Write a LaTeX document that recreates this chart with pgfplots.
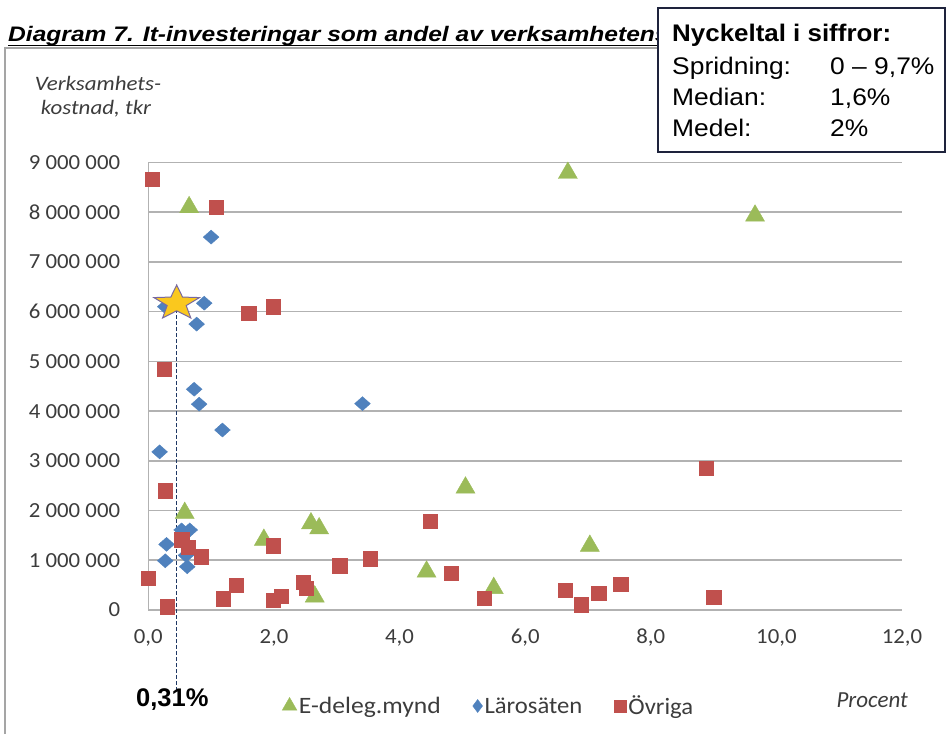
\documentclass[border=0pt]{standalone}
\usepackage{fontspec}
\setmainfont{Carlito}
\newfontfamily\arial{Liberation Sans}
\usepackage{graphicx}
\usepackage{pgfplots}
\pgfplotsset{compat=1.18}
\usepackage{pgfplotstable}
\definecolor{cgreen}{RGB}{155,187,89}
\definecolor{cblue}{RGB}{79,129,189}
\definecolor{cred}{RGB}{192,80,77}
\definecolor{cgrid}{RGB}{178,178,178}
\definecolor{ctick}{RGB}{60,60,60}
\definecolor{cframe}{RGB}{165,165,165}
\definecolor{cdash}{RGB}{31,56,100}
\definecolor{cbox}{RGB}{30,35,60}
\definecolor{cstar}{RGB}{250,200,30}
\definecolor{cstarline}{RGB}{120,105,160}

\pgfdeclareplotmark{bigstar}{%
  \pgfpathmoveto{\pgfqpoint{0pt}{18.24pt}}%
  \pgfpathlineto{\pgfqpoint{-5.88pt}{6.15pt}}%
  \pgfpathlineto{\pgfqpoint{-22.83pt}{5.64pt}}%
  \pgfpathlineto{\pgfqpoint{-9.51pt}{-2.35pt}}%
  \pgfpathlineto{\pgfqpoint{-14.11pt}{-14.76pt}}%
  \pgfpathlineto{\pgfqpoint{0pt}{-7.6pt}}%
  \pgfpathlineto{\pgfqpoint{14.11pt}{-14.76pt}}%
  \pgfpathlineto{\pgfqpoint{9.51pt}{-2.35pt}}%
  \pgfpathlineto{\pgfqpoint{22.83pt}{5.64pt}}%
  \pgfpathlineto{\pgfqpoint{5.88pt}{6.15pt}}%
  \pgfpathclose
  \pgfusepathqfillstroke
}

\pgfplotstableread{
x y
0.65 8100000
6.68 8790000
9.66 7930000
5.05 2460000
0.58 1950000
1.84 1410000
2.59 1740000
2.72 1640000
2.65 270000
7.03 1290000
4.43 770000
5.50 440000
}\edeleg

\pgfplotstableread{
x y
1.00 7500000
0.27 6100000
0.89 6170000
0.77 5750000
0.73 4440000
0.81 4140000
3.41 4150000
1.18 3620000
0.18 3180000
0.53 1610000
0.66 1610000
0.29 1320000
0.27 990000
0.60 1100000
0.62 870000
}\laro

\pgfplotstableread{
x y
0.06 8670000
1.08 8100000
1.60 5970000
1.99 6100000
0.25 4840000
0.27 2400000
0.53 1410000
0.64 1260000
0.84 1070000
0.00 640000
0.30 70000
1.19 230000
1.40 500000
1.99 1290000
1.99 200000
2.12 280000
2.47 560000
2.51 440000
3.05 890000
3.53 1030000
4.49 1780000
4.82 740000
5.35 240000
6.64 400000
6.89 110000
7.17 340000
7.52 520000
8.88 2850000
9.00 260000
}\ovriga

\begin{document}
\begin{tikzpicture}[x=1pt,y=1pt]
% title
\node[anchor=base west, inner sep=0pt, xscale=1.17, font=\arial\bfseries\itshape\fontsize{21}{25}\selectfont] at (8,692.5) {Diagram 7. It-investeringar som andel av verksamhetens};
\draw[black, line width=1.1pt] (8,688.3) -- (658,688.3);
% frame
\draw[cframe, line width=1.2pt] (5,0) -- (5,686) -- (660,686);

\begin{axis}[
  at={(148.3pt,124pt)}, anchor=south west,
  scale only axis, width=753.7pt, height=447.5pt,
  xmin=0, xmax=12, ymin=0, ymax=9000000,
  xtick={0,2,4,6,8,10,12},
  xticklabels={{0,0},{2,0},{4,0},{6,0},{8,0},{10,0},{12,0}},
  ytick={0,1000000,2000000,3000000,4000000,5000000,6000000,7000000,8000000,9000000},
  yticklabels={0,1 000 000,2 000 000,3 000 000,4 000 000,5 000 000,6 000 000,7 000 000,8 000 000,9 000 000},
  scaled y ticks=false, scaled x ticks=false,
  ymajorgrids, grid style={draw=cgrid, line width=1.6pt},
  axis x line*=bottom, axis y line*=left,
  axis line style={draw=cgrid, line width=1.6pt, -},
  major tick style={draw=none},
  tick label style={font=\fontsize{21.5}{24}\selectfont, text=ctick},
  yticklabel style={inner sep=0pt, xshift=-28pt, xscale=1.06},
  xticklabel style={inner sep=0pt, yshift=-19pt, xscale=1.06},
  clip=false,
  legend columns=3,
  legend cell align=left,
  legend image code/.code={\draw[#1] plot coordinates {(6pt,0pt)};},
  legend style={draw=none, fill=none, at={(axis description cs:0.1774,-0.2145)}, anchor=west,
    font=\fontsize{23.5}{27}\selectfont, text=ctick, inner sep=0pt,
    /tikz/every even column/.append style={column sep=30pt}},
]
\addplot[only marks, mark=triangle*, mark size=11, color=cgreen,
  legend image post style={mark size=8.5}] table[x=x,y=y] {\edeleg};
\addlegendentry{\scalebox{1.09}[1]{E-deleg.mynd}}
\addplot[only marks, mark=diamond*, mark size=7, color=cblue, mark options={xscale=1.5},
  legend image post style={mark size=6.5, mark options={xscale=1}}] table[x=x,y=y] {\laro};
\addlegendentry{\scalebox{1.05}[1]{Lärosäten}}
\addplot[only marks, mark=square*, mark size=7.2, color=cred,
  legend image post style={mark size=6}] table[x=x,y=y] {\ovriga};
\addlegendentry{\scalebox{1.05}[1]{Övriga}}
\addplot[forget plot, color=cdash, line width=1.3pt, dash pattern=on 3.5pt off 2.5pt] coordinates {(0.45,6170000) (0.45,-1600000)};
\addplot[forget plot, only marks, mark=bigstar, mark options={draw=cstarline, fill=cstar, line width=1pt}] coordinates {(0.452,6170000)};
\end{axis}

% y axis label
\node[anchor=base, inner sep=0pt, xscale=1.12, font=\itshape\fontsize{20.5}{24}\selectfont, text=ctick] at (98,643) {Verksamhets-};
\node[anchor=base, inner sep=0pt, xscale=1.12, font=\itshape\fontsize{20.5}{24}\selectfont, text=ctick] at (96,619.5) {kostnad, tkr};
% x axis label
\node[anchor=base east, inner sep=0pt, font=\itshape\fontsize{23}{27}\selectfont, text=ctick] at (908,27) {Procent};
% 0,31%
\node[anchor=base west, inner sep=0pt, font=\arial\bfseries\fontsize{25.5}{30}\selectfont] at (136,28) {0,31\%};

% key box
\filldraw[fill=white, draw=cbox, line width=1.5pt] (658,582) rectangle (945,726);
\node[anchor=base west, inner sep=0pt, xscale=1.08, font=\arial\bfseries\fontsize{24}{28}\selectfont] at (672,692) {Nyckeltal i siffror:};
\node[anchor=base west, inner sep=0pt, xscale=1.1, font=\arial\fontsize{24}{28}\selectfont] at (672,659) {Spridning:};
\node[anchor=base west, inner sep=0pt, xscale=1.1, font=\arial\fontsize{24}{28}\selectfont] at (830,659) {0 – 9,7\%};
\node[anchor=base west, inner sep=0pt, xscale=1.1, font=\arial\fontsize{24}{28}\selectfont] at (672,628) {Median:};
\node[anchor=base west, inner sep=0pt, xscale=1.1, font=\arial\fontsize{24}{28}\selectfont] at (830,628) {1,6\%};
\node[anchor=base west, inner sep=0pt, xscale=1.1, font=\arial\fontsize{24}{28}\selectfont] at (672,597.5) {Medel:};
\node[anchor=base west, inner sep=0pt, xscale=1.1, font=\arial\fontsize{24}{28}\selectfont] at (830,597.5) {2\%};

\pgfresetboundingbox
\useasboundingbox (0,0) rectangle (947,734);
\end{tikzpicture}
\end{document}
